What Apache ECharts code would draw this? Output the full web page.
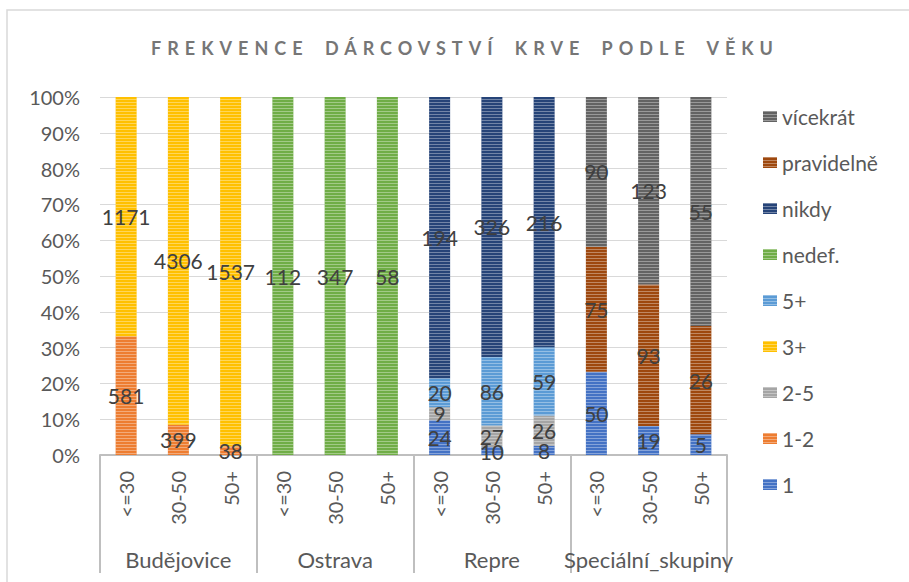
<!DOCTYPE html>
<html>
<head>
<meta charset="utf-8">
<script src="https://cdn.jsdelivr.net/npm/echarts@6/dist/echarts.min.js"></script>
<style>
html,body{margin:0;padding:0;background:#fff;}
#c{width:909px;height:582px;}
</style>
</head>
<body>
<div id="c"></div>
<script>
const TITLE = 'FREKVENCE DÁRCOVSTVÍ KRVE PODLE VĚKU';
const categories = ['<=30','30-50','50+','<=30','30-50','50+','<=30','30-50','50+','<=30','30-50','50+'];
const groups = ['Budějovice','Ostrava','Repre','Speciální_skupiny'];
const yTicks = [0,10,20,30,40,50,60,70,80,90,100];

const s_1        = [null,null,null, null,null,null, 24,10,8,       50,19,5];
const s_1_2      = [581,399,38,     null,null,null, null,null,null, null,null,null];
const s_2_5      = [null,null,null, null,null,null, 9,27,26,       null,null,null];
const s_3plus    = [1171,4306,1537, null,null,null, null,null,null, null,null,null];
const s_5plus    = [null,null,null, null,null,null, 20,86,59,      null,null,null];
const s_nedef    = [null,null,null, 112,347,58,     null,null,null, null,null,null];
const s_nikdy    = [null,null,null, null,null,null, 194,326,216,   null,null,null];
const s_pravidelne = [null,null,null, null,null,null, null,null,null, 75,93,26];
const s_vicekrat = [null,null,null, null,null,null, null,null,null, 90,123,55];

const seriesNames = ['1','1-2','2-5','3+','5+','nedef.','nikdy','pravidelně','vícekrát'];
const seriesCounts = [s_1,s_1_2,s_2_5,s_3plus,s_5plus,s_nedef,s_nikdy,s_pravidelne,s_vicekrat];
const colors = ['#4472C4','#ED7D31','#A5A5A5','#FFC000','#5B9BD5','#70AD47','#264478','#9E480E','#636363'];

const totals = categories.map((_, i) => seriesCounts.reduce((s, arr) => s + (arr[i] || 0), 0));

const FONT = 'Lato';
const chart = echarts.init(document.getElementById('c'), null, {renderer: 'svg'});

const series = seriesNames.map((name, si) => ({
  name: name,
  type: 'bar',
  stack: 'total',
  xAxisIndex: 0,
  barWidth: 21,
  data: seriesCounts[si].map((v, i) => v == null ? null : v / totals[i] * 100),
  itemStyle: {
    color: colors[si],
    decal: {
      symbol: 'rect',
      symbolSize: 1,
      dashArrayX: [1, 0],
      dashArrayY: [1, 2],
      rotation: 0,
      color: 'rgba(255,255,255,0.35)'
    }
  },
  label: {
    show: true,
    position: 'inside',
    color: '#404040',
    fontFamily: FONT,
    fontSize: 21,
    formatter: p => String(seriesCounts[si][p.dataIndex])
  }
}));

chart.setOption({
  animation: false,
  color: colors,
  title: {
    text: TITLE,
    left: 460,
    textAlign: 'center',
    top: 34,
    textStyle: {fontFamily: FONT, fontSize: 18, fontWeight: 'bold', color: '#767676'}
  },
  graphic: [{
    type: 'rect',
    shape: {x: 7, y: 10, width: 960, height: 640},
    style: {fill: 'none', stroke: '#d9d9d9', lineWidth: 1.5},
    silent: true
  }],
  legend: {
    orient: 'vertical',
    left: 758,
    top: 101,
    itemWidth: 14,
    itemHeight: 11,
    itemGap: 25,
    icon: 'rect',
    data: seriesNames.slice().reverse(),
    textStyle: {fontFamily: FONT, fontSize: 21, color: '#595959', lineHeight: 20}
  },
  grid: {left: 100, right: 182, top: 97, bottom: 127, containLabel: false},
  xAxis: [{
    type: 'category',
    data: categories,
    position: 'bottom',
    axisLine: {show: false},
    axisTick: {show: false},
    axisLabel: {rotate: 90, interval: 0, margin: 16, fontFamily: FONT, fontSize: 20, color: '#595959'}
  }, {
    type: 'category',
    data: groups,
    position: 'bottom',
    gridIndex: 0,
    axisLine: {show: true, lineStyle: {color: '#bfbfbf', width: 2}},
    axisTick: {show: true, interval: 0, length: 118, lineStyle: {color: '#bfbfbf', width: 2}},
    axisLabel: {interval: 0, margin: 93, fontFamily: FONT, fontSize: 22, color: '#595959'},
    splitLine: {show: false}
  }],
  yAxis: {
    type: 'value',
    min: yTicks[0],
    max: yTicks[yTicks.length - 1],
    interval: 10,
    axisLine: {show: false},
    axisTick: {show: false},
    splitLine: {lineStyle: {color: '#d9d9d9', width: 1}},
    axisLabel: {formatter: '{value}%', margin: 20, fontFamily: FONT, fontSize: 20, color: '#595959'}
  },
  series: series
});

function spaceTitle() {
  document.querySelectorAll('#c svg text').forEach(t => {
    if (t.textContent === TITLE) {
      t.style.letterSpacing = '6px';
      t.style.wordSpacing = '6px';
    }
  });
}
chart.on('finished', spaceTitle);
spaceTitle();
</script>
</body>
</html>
